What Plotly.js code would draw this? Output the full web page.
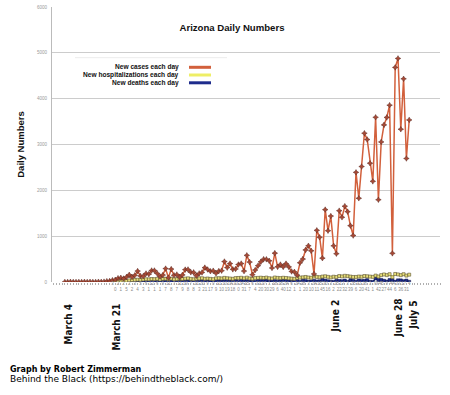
<!DOCTYPE html>
<html>
<head>
<meta charset="utf-8">
<script src="https://cdn.plot.ly/plotly-3.0.1.min.js"></script>
<style>html,body{margin:0;padding:0;background:#fff}#chart{width:450px;height:395px}</style>
</head>
<body>
<div id="chart"></div>
<script>
// ---- data ----
const casesStart = '2020-03-04';   // first day of the cases series
const hdStart = '2020-03-21';      // first day of hospitalizations / deaths series

const seriesNames = ['New cases each day', 'New hospitalizations each day', 'New deaths each day'];

// New cases each day, Mar 4 .. Jul 5
const cases = [
  0,0,3,0,0,1,0,3,0,3,0,1,5,2,7,17,21,
  39,48,83,91,75,107,157,108,146,238,132,
  124,185,171,250,250,187,119,151,292,94,281,146,163,107,155,270,273,212,210,135,187,208,313,273,235,246,190,239,247,446,
  314,402,276,284,381,402,238,581,434,159,261,356,440,498,495,462,306,629,331,380,330,400,330,230,220,150,420,500,700,790,680,
  176,1127,975,520,1579,1119,1438,789,618,1556,1412,1654,1535,1230,1014,2392,1827,2519,3246,3109,2592,2196,3593,1795,3056,3428,3591,3858,625,4682,
  4878,3333,4433,2695,3536
];

// New hospitalizations each day, Mar 21 .. Jul 5
const hospitalizations = [
  10,15,20,25,30,28,35,40,45,50,48,
  55,60,58,65,62,70,55,68,72,60,75,58,62,70,66,74,80,68,60,72,78,82,70,76,68,62,80,84,78,90,
  82,76,70,85,88,92,80,95,78,72,86,90,94,88,96,82,76,98,90,85,92,88,80,74,70,90,96,102,110,98,92,
  120,110,105,118,125,112,100,115,108,130,122,135,128,118,110,110,120,115,130,125,118,112,140,120,150,165,150,170,105,175,
  165,150,170,140,160
];

// New deaths each day, Mar 21 .. Jul 5
const deaths = [
  3,0,2,1,2,5,2,2,3,4,
  5,3,6,1,12,1,6,1,9,7,
  11,8,7,7,11,9,19,8,7,8,
  21,3,20,21,9,17,0,9,11,10,
  10,19,14,18,33,0,24,31,15,7,
  6,4,32,20,27,30,1,29,18,6,
  16,40,24,12,6,1,24,1,28,20,
  3,10,24,11,15,45,30,16,3,2,
  25,22,17,32,3,39,25,6,32,20,
  26,41,3,1,79,42,45,27,9,44,
  44,6,37,36,17,31,4
];

// Hand-placed date labels under the axis
const dateLabels = ['March 4', 'March 21', 'June 2', 'June 28', 'July 5'];

// ---- helpers ----
function dayList(start, n) {
  const p = start.split('-').map(Number);
  const base = Date.UTC(p[0], p[1] - 1, p[2]);
  const out = [];
  for (let i = 0; i < n; i++) {
    const d = new Date(base + i * 86400000);
    out.push(d.toISOString().slice(0, 10));
  }
  return out;
}
const xCases = dayList(casesStart, cases.length);
const xHosp = dayList(hdStart, hospitalizations.length);
const xDeaths = dayList(hdStart, deaths.length);

const colCases = '#d2603c', colHosp = '#eeee66', colDeaths = '#1e2c8c';

// plot area in pixels: x 52..440, y 7..282
const L = 52, R = 440, T = 7, B = 282;
const px = x => (x - L) / (R - L);
const py = y => (B - y) / (B - T);

const traces = [
  {
    x: xDeaths, y: deaths, name: seriesNames[2], type: 'scatter', mode: 'lines+markers',
    line: {color: colDeaths, width: 1.5},
    marker: {symbol: 'square', size: 3, color: colDeaths, line: {color: '#0c1440', width: 0.5}},
    showlegend: false
  },
  {
    x: xHosp, y: hospitalizations, name: seriesNames[1], type: 'scatter', mode: 'lines+markers',
    line: {color: colHosp, width: 1.5},
    marker: {symbol: 'square', size: 3, color: '#e8e07a', line: {color: '#5a5030', width: 0.6}},
    showlegend: false
  },
  {
    x: xCases, y: cases, name: seriesNames[0], type: 'scatter', mode: 'lines+markers',
    line: {color: colCases, width: 1.5},
    marker: {symbol: 'star-diamond', size: 4, color: '#a84a36', line: {color: '#5a2820', width: 0.5}},
    showlegend: false
  },
  // death counts printed under the axis, alternating between two rows
  {
    x: xDeaths, y: deaths.map(() => 0), type: 'scatter', mode: 'text',
    text: deaths.map((v, i) => (i % 2 === 0 ? String(v) : '<br>' + v)),
    textposition: 'bottom center',
    textfont: {size: 4.5, color: '#8a8a8a', family: 'Liberation Sans, Arial, sans-serif'},
    cliponaxis: false, hoverinfo: 'skip', showlegend: false
  }
];

const annotations = [];
const shapes = [];
// legend (text right-aligned, colour bar to its right)
const legendColors = [colCases, colHosp, colDeaths];
const legendY = [67.3, 75, 82.8];
seriesNames.forEach((n, i) => {
  annotations.push({
    xref: 'paper', yref: 'paper', x: px(181), y: py(legendY[i]), xanchor: 'right', yanchor: 'middle',
    text: '<b>' + n + '</b>', showarrow: false,
    font: {family: 'Liberation Sans, Arial, sans-serif', size: 6.6, color: '#111'}
  });
  shapes.push({
    type: 'line', xref: 'paper', yref: 'paper', x0: px(189), x1: px(211), y0: py(legendY[i]), y1: py(legendY[i]),
    line: {color: legendColors[i], width: 3}
  });
});
shapes.push({type: 'line', xref: 'paper', yref: 'paper', x0: px(75), x1: px(227), y0: py(57.7), y1: py(57.7),
  line: {color: '#ececec', width: 1}});

// rotated date labels
const dateLabelX = [68, 116, 335, 398, 413];
const dateLabelTop = [302, 302, 298, 297, 299];
dateLabels.forEach((t, i) => {
  annotations.push({
    xref: 'paper', yref: 'paper', x: px(dateLabelX[i]), y: py(dateLabelTop[i]), xanchor: 'center', yanchor: 'top',
    text: '<b>' + t + '</b>', textangle: -90, showarrow: false,
    font: {family: 'DejaVu Sans Condensed, DejaVu Sans, sans-serif', size: 10, color: '#111'}
  });
});

// footer
annotations.push({
  xref: 'paper', yref: 'paper', x: px(8), y: py(369), xanchor: 'left', yanchor: 'middle', showarrow: false,
  text: '<b>Graph by Robert Zimmerman</b>', font: {family: 'DejaVu Sans, sans-serif', size: 8, color: '#000'}
});
annotations.push({
  xref: 'paper', yref: 'paper', x: px(8), y: py(379), xanchor: 'left', yanchor: 'middle', showarrow: false,
  text: 'Behind the Black (https://behindtheblack.com/)', font: {family: 'DejaVu Sans, sans-serif', size: 9, color: '#000'}
});

const layout = {
  width: 450, height: 395,
  margin: {l: L, r: 450 - R, t: T, b: 395 - B, pad: 0},
  paper_bgcolor: '#fff', plot_bgcolor: '#fff',
  font: {family: 'Liberation Sans, Arial, sans-serif', color: '#111'},
  title: {
    text: '<b>Arizona Daily Numbers</b>', xref: 'container', yref: 'container',
    x: 232 / 450, y: 1 - 28 / 395, xanchor: 'center', yanchor: 'middle',
    font: {family: 'Liberation Sans, Arial, sans-serif', size: 9.6, color: '#111'}
  },
  xaxis: {
    type: 'date', range: ['2020-02-28 10:00', '2020-07-16 00:00'],
    showgrid: false, zeroline: false, showline: false,
    ticks: 'outside', ticklen: 2, tickcolor: '#b0b0b0', tickwidth: 1,
    dtick: 86400000, tick0: '2020-03-04', showticklabels: false
  },
  yaxis: {
    range: [0, 6000], dtick: 1000, showgrid: true, gridcolor: '#cccccc', gridwidth: 1,
    zeroline: false, showline: true, linecolor: '#bbbbbb', linewidth: 1,
    ticks: '', tickfont: {size: 4.5, color: '#9a9a9a'}, ticklabelstandoff: 3,
    title: {text: '<b>Daily Numbers</b>', standoff: 10,
      font: {family: 'Liberation Sans, Arial, sans-serif', size: 9.5, color: '#111'}}
  },
  annotations: annotations,
  shapes: shapes,
  showlegend: false
};

Plotly.newPlot('chart', traces, layout, {staticPlot: true, displayModeBar: false});
</script>
</body>
</html>
